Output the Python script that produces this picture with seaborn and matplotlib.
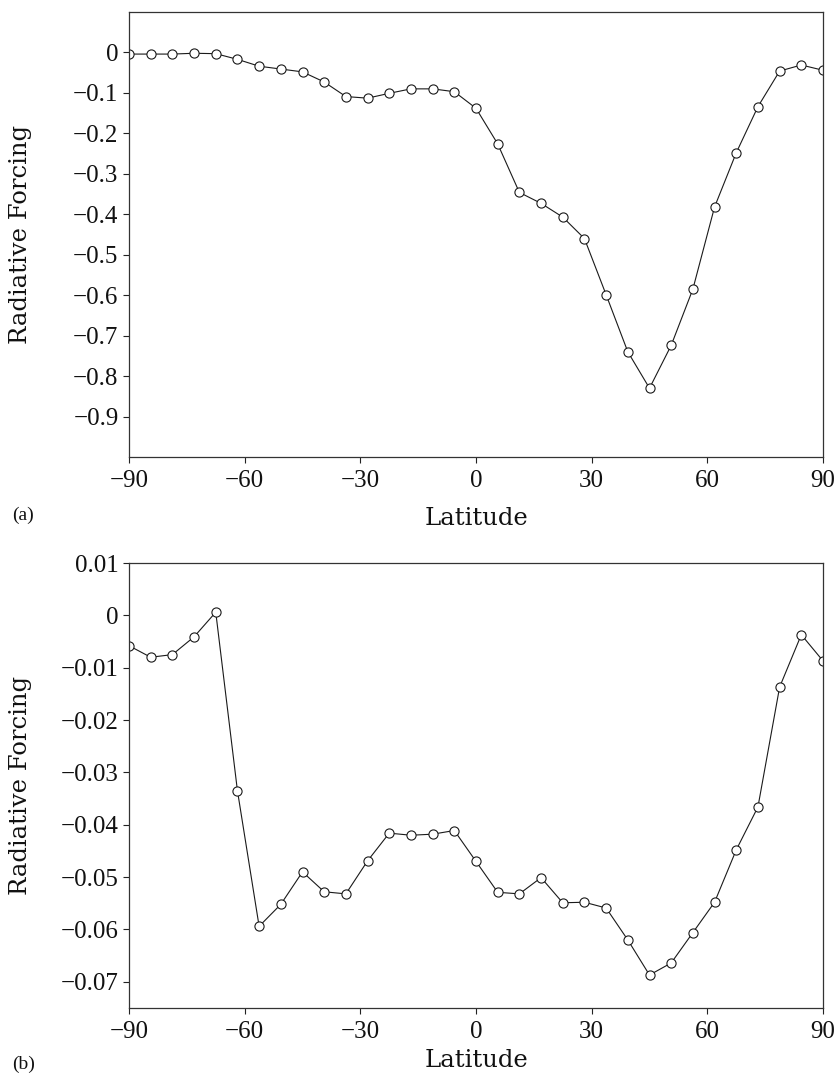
import matplotlib
matplotlib.use("Agg")
import matplotlib.pyplot as plt
import seaborn as sns
import pandas as pd

# Zonal-mean radiative forcing by latitude
lat = [-90.0, -84.375, -78.75, -73.125, -67.5, -61.875, -56.25, -50.625,
       -45.0, -39.375, -33.75, -28.125, -22.5, -16.875, -11.25, -5.625,
       0.0, 5.625, 11.25, 16.875, 22.5, 28.125, 33.75, 39.375,
       45.0, 50.625, 56.25, 61.875, 67.5, 73.125, 78.75, 84.375, 90.0]

rf_a = [-0.004, -0.004, -0.004, -0.002, -0.003, -0.017, -0.034, -0.041,
        -0.048, -0.073, -0.109, -0.113, -0.101, -0.090, -0.090, -0.097,
        -0.138, -0.226, -0.346, -0.373, -0.407, -0.460, -0.599, -0.740,
        -0.830, -0.724, -0.585, -0.382, -0.248, -0.134, -0.046, -0.031, -0.044]

rf_b = [-0.0058, -0.0080, -0.0075, -0.0041, 0.0006, -0.0335, -0.0594, -0.0552,
        -0.0490, -0.0528, -0.0532, -0.0469, -0.0416, -0.0420, -0.0418, -0.0411,
        -0.0470, -0.0529, -0.0532, -0.0501, -0.0549, -0.0548, -0.0559, -0.0620,
        -0.0687, -0.0664, -0.0606, -0.0548, -0.0448, -0.0366, -0.0137, -0.0037, -0.0087]

x_ticks = [-90, -60, -30, 0, 30, 60, 90]
y_ticks_a = [0, -0.1, -0.2, -0.3, -0.4, -0.5, -0.6, -0.7, -0.8, -0.9]
y_ticks_b = [0.01, 0, -0.01, -0.02, -0.03, -0.04, -0.05, -0.06, -0.07]
panel_tags = ["(a)", "(b)"]

sns.set_style("ticks")
plt.rcParams["font.family"] = ["Liberation Serif", "DejaVu Serif"]
plt.rcParams["axes.unicode_minus"] = True

W, H = 838, 1079
fig = plt.figure(figsize=(W / 100, H / 100), dpi=100)

def px_axes(left, top, right, bottom):
    return fig.add_axes([left / W, 1 - bottom / H, (right - left) / W, (bottom - top) / H])

ax_a = px_axes(129, 12, 823, 457)
ax_b = px_axes(129, 563, 823, 1008)

df_a = pd.DataFrame({"Latitude": lat, "RF": rf_a})
df_b = pd.DataFrame({"Latitude": lat, "RF": rf_b})

label_font = dict(family=["DejaVu Serif"], size=17.5)

def fmt(v):
    if v == 0:
        return "0"
    s = f"{v:g}"
    return s.replace("-", "\u2212")

for ax, df, yticks, ylim, xlab_y, tag, tag_y in [
    (ax_a, df_a, y_ticks_a, (-1.0, 0.1), -0.113, panel_tags[0], 515),
    (ax_b, df_b, y_ticks_b, (-0.075, 0.01), -0.092, panel_tags[1], 1064),
]:
    sns.lineplot(data=df, x="Latitude", y="RF", ax=ax, color="#1a1a1a",
                 linewidth=0.8, marker="o", markersize=6.6,
                 markerfacecolor="white", markeredgecolor="#1a1a1a",
                 markeredgewidth=0.8)
    ax.set_xlim(-90, 90)
    ax.set_ylim(*ylim)
    ax.set_xticks(x_ticks)
    ax.set_xticklabels([fmt(v) for v in x_ticks])
    ax.set_yticks(yticks)
    ax.set_yticklabels([fmt(v) for v in yticks])
    ax.tick_params(axis="both", direction="out", length=4.5, width=0.8,
                   colors="#222222", labelsize=18, labelcolor="#111111")
    ax.tick_params(axis="x", pad=5)
    ax.tick_params(axis="y", pad=3)
    for s in ax.spines.values():
        s.set_visible(True)
        s.set_linewidth(0.9)
        s.set_color("#333333")
    ax.set_xlabel("Latitude", fontdict=label_font, color="#111111")
    ax.set_ylabel("Radiative Forcing", fontdict=label_font, color="#111111")
    ax.xaxis.set_label_coords(0.5, xlab_y)
    ax.yaxis.set_label_coords(-0.14, 0.5)
    fig.text(12 / W, 1 - tag_y / H, tag, ha="left", va="center",
             fontsize=14, family=["Liberation Serif"], color="#111111")

fig.savefig("out.png", dpi=100, facecolor="white")
